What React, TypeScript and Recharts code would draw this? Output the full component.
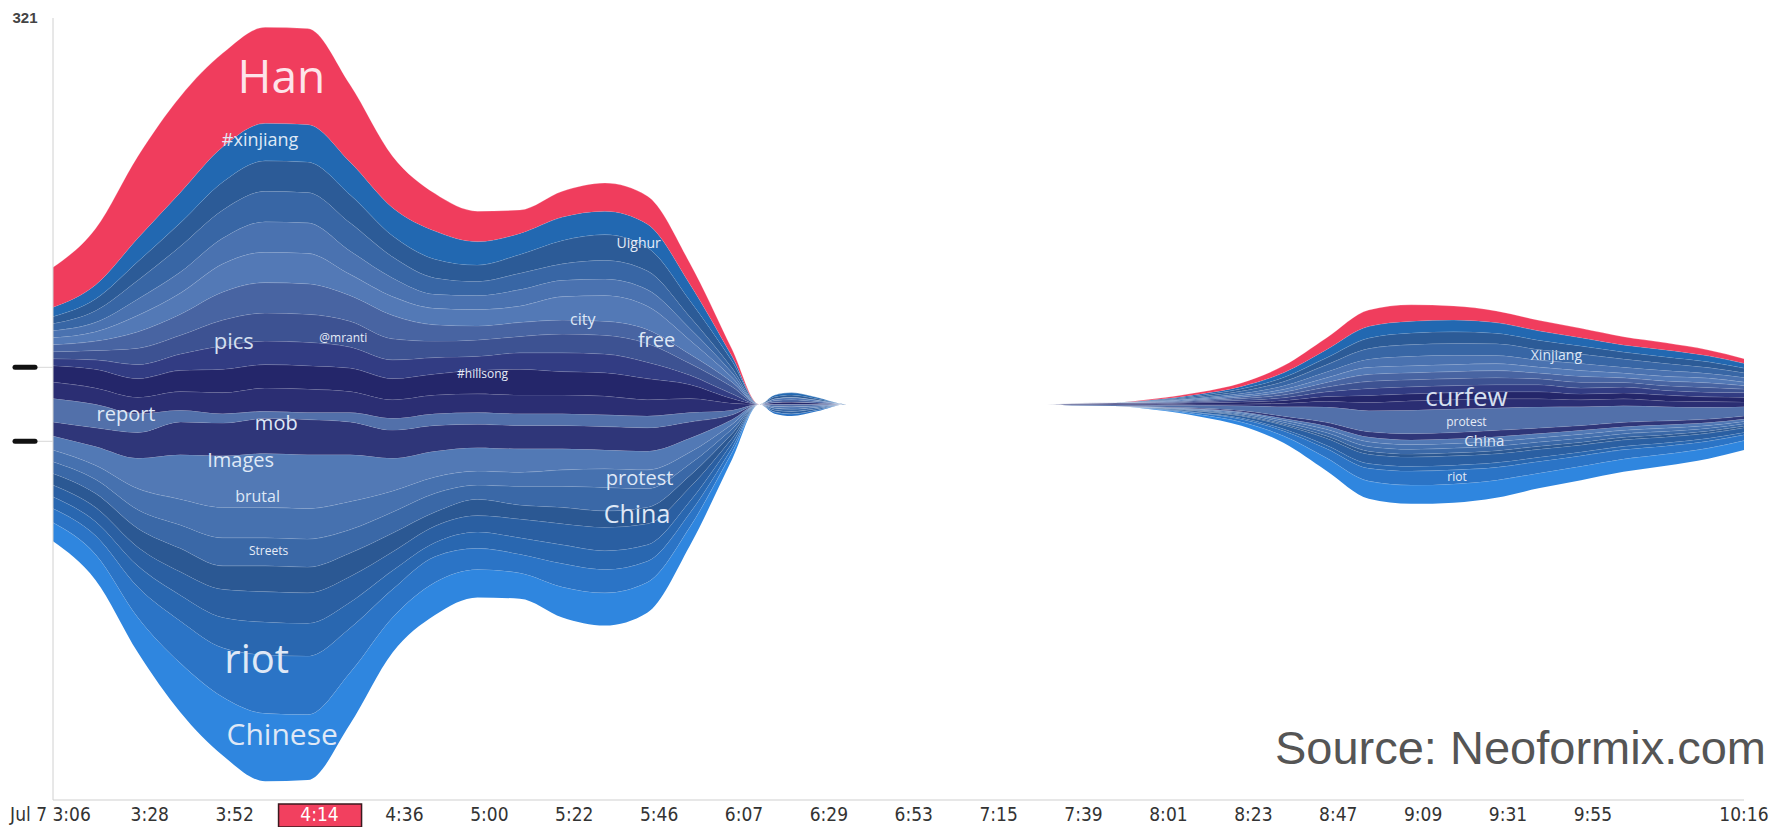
import React from "react";
import { Area, AreaChart, ReferenceDot, XAxis, YAxis } from "recharts";

// x position of every sample, in tick slots (slot 0 = left edge of the plot)
const times = [0, 0.5, 1, 1.5, 2, 2.5, 3, 3.5, 4, 4.5, 5, 5.5, 6, 6.5, 7, 7.5, 8, 8.32, 8.5, 8.7, 9, 9.35, 11.7, 12, 12.5, 13, 13.5, 14, 14.5, 15, 15.5, 16, 16.5, 17, 17.5, 18, 18.5, 19, 19.5, 19.92];

const tickPos = [0.14, 1.14, 2.14, 3.14, 4.14, 5.14, 6.14, 7.14, 8.14, 9.14, 10.14, 11.14, 12.14, 13.14, 14.14, 15.14, 16.14, 17.14, 18.14, 19.92];
const tickLabels = ["3:06", "3:28", "3:52", "4:14", "4:36", "5:00", "5:22", "5:46", "6:07", "6:29", "6:53", "7:15", "7:39", "8:01", "8:23", "8:47", "9:09", "9:31", "9:55", "10:16"];
const datePrefix = "Jul 7";
const highlightTick = "4:14";
const yMaxLabel = "321";

// layer thickness (tweet counts), bottom of the stream first
const chinese = [8, 11, 15, 21, 25, 29, 28, 22, 15, 14, 12, 11, 13, 14, 13, 8, 3, 0, 0, 0, 0, 0, 0, 0, 0, 0.3, 0.8, 1.6, 3, 5.5, 7.5, 8, 8, 7.5, 6.5, 6, 5.5, 5, 4.5, 4];
const riot = [6, 8, 13, 18, 21, 25, 25, 19, 12, 11, 9, 8, 10, 10, 9, 6, 2, 0, 0.8, 1, 0.6, 0, 0, 0, 0, 0.3, 0.6, 1.2, 2.2, 4, 5.5, 6, 6, 5.5, 5, 4.5, 4, 3.5, 3, 2.5];
const b3 = [5, 6, 9, 11, 13, 14, 14, 11, 8, 6, 7, 7, 8, 8, 7, 5, 2, 0, 0, 0, 0, 0, 0, 0, 0, 0.1, 0.3, 0.5, 0.8, 1.4, 2, 2, 2, 2, 1.8, 1.6, 1.4, 1.3, 1.2, 1];
const b4 = [5, 6, 8, 10, 12, 13, 13, 11, 8, 7, 7, 8, 9, 10, 9, 6, 2, 0, 0.8, 1, 0.6, 0, 0, 0, 0, 0.2, 0.5, 0.9, 1.6, 3, 4, 4, 4, 3.8, 3.4, 3, 2.8, 2.5, 2.2, 2];
const streets = [5, 6, 8, 10, 10, 11, 11, 10, 8, 6, 7, 6, 7, 7, 7, 5, 2, 0, 0, 0, 0, 0, 0, 0, 0, 0.1, 0.2, 0.3, 0.5, 1, 1.3, 1.3, 1.3, 1.3, 1.3, 1.2, 1.1, 1, 0.9, 0.7];
const b6 = [5, 6, 8, 10, 12, 12, 12, 10, 9, 8, 6, 8, 9, 10, 8, 5, 2, 0, 0.8, 1, 0.6, 0, 0, 0, 0, 0.1, 0.3, 0.5, 0.8, 1.4, 2, 2, 2, 2, 1.8, 1.7, 1.5, 1.4, 1.2, 1];
const brutal = [5, 6, 9, 11, 13, 13, 13, 12, 9, 7, 6, 6, 7, 8, 8, 5, 2, 0, 0, 0, 0, 0, 0, 0, 0, 0.1, 0.3, 0.5, 0.8, 1.4, 2, 2, 2, 2, 1.8, 1.7, 1.5, 1.4, 1.2, 1];
const images = [6, 8, 13, 19, 22, 23, 23, 20, 14, 11, 10, 10, 9, 8, 8, 6, 2, 0, 0.8, 1, 0.6, 0, 0, 0, 0, 0.1, 0.3, 0.5, 0.8, 1.4, 2, 2, 2, 2, 1.8, 1.7, 1.5, 1.4, 1.2, 1];
const mob = [6, 8, 11, 14, 14, 15, 15, 14, 12, 11, 10, 10, 10, 10, 10, 7, 2, 0, 0, 0, 0, 0, 0, 0, 0, 0.1, 0.3, 0.5, 1, 1.6, 2.3, 2.7, 2.7, 2.7, 2.4, 2, 1.9, 1.7, 1.5, 1.3];
const report = [10, 10, 8, 5, 4, 3, 3, 4, 5, 5, 5, 5, 5, 5, 5, 4, 2, 0, 0.8, 1, 0.6, 0, 0, 0.3, 0.5, 0.6, 1.2, 2, 4, 6.5, 9, 10, 10, 9.5, 9, 8, 7, 6, 5, 4];
const b10 = [7, 7, 7, 8, 9, 10, 10, 9, 8, 8, 8, 8, 8, 8, 7, 6, 3, 0, 0, 0, 0, 0, 0, 0.2, 0.3, 0.3, 0.5, 0.8, 1.5, 2.5, 3.5, 4, 4, 4, 3.5, 3, 3, 2.5, 2.5, 2];
const hillsong = [7, 8, 8, 9, 10, 10, 10, 10, 9, 9, 10, 11, 10, 10, 9, 6, 2, 0, 0.8, 1, 0.6, 0, 0, 0.3, 0.4, 0.4, 0.5, 0.8, 1.2, 2, 3, 3, 3, 3, 3, 2.5, 2.5, 2.5, 2, 2];
const b12 = [3, 4, 6, 7, 10, 10, 10, 9, 8, 7, 6, 7, 8, 8, 7, 4, 2, 0, 0, 0, 0, 0, 0, 0.2, 0.3, 0.3, 0.5, 0.8, 1.2, 2, 3, 3, 3, 3, 3, 2.5, 2.5, 2, 2, 2];
const mranti = [3, 4, 7, 8, 11, 12, 12, 11, 9, 7, 7, 7, 8, 8, 8, 5, 3, 0, 0, 0, 0, 0, 0, 0, 0, 0.2, 0.4, 0.7, 1.2, 2, 3, 3, 3, 3, 2.5, 2.5, 2, 2, 2, 1.5];
const pics = [3, 4, 7, 9, 12, 13, 13, 11, 10, 7, 6, 6, 6, 6, 6, 4, 2, 0, 0.8, 1, 0.6, 0, 0, 0, 0, 0.2, 0.4, 0.7, 1.2, 2, 3, 3, 3, 3, 2.5, 2.5, 2, 2, 2, 1.5];
const city = [3, 4, 7, 9, 12, 13, 13, 9, 8, 7, 7, 7, 10, 11, 10, 6, 2, 0, 0.8, 1, 0.6, 0, 0, 0, 0, 0.2, 0.4, 0.7, 1.2, 2, 3, 3, 3, 3, 2.5, 2.5, 2, 2, 2, 1.5];
const b16 = [3, 4, 7, 9, 11, 13, 13, 10, 8, 6, 6, 7, 7, 7, 7, 5, 2, 0, 0, 0, 0, 0, 0, 0, 0, 0.2, 0.4, 0.8, 1.5, 2.5, 3.5, 4, 4, 3.5, 3, 3, 2.5, 2.5, 2, 2];
const b17 = [3, 5, 8, 11, 12, 13, 13, 12, 9, 7, 6, 7, 7, 8, 8, 5, 2, 0, 0, 0, 0, 0, 0, 0, 0, 0.2, 0.5, 1, 1.8, 3, 4.5, 5, 5, 5, 4.5, 4, 3.5, 3, 2.5, 2];
const uighur = [3, 5, 8, 10, 12, 13, 13, 12, 9, 8, 7, 8, 10, 11, 10, 7, 3, 0, 0.8, 1, 0.6, 0, 0, 0, 0, 0.2, 0.5, 1, 1.8, 3, 4.5, 5, 5, 4.5, 4, 3.5, 3, 2.8, 2.5, 2];
const xinjiang = [4, 6, 10, 13, 15, 16, 16, 14, 12, 12, 10, 9, 10, 10, 10, 7, 2, 0, 0.8, 1, 0.6, 0, 0, 0, 0, 0.3, 0.6, 1, 2, 3.5, 5, 5, 5, 4.5, 4, 3.5, 3, 3, 2.5, 2];
const han = [17, 24, 35, 41, 40, 41, 41, 33, 22, 16, 13, 10, 11, 12, 12, 9, 3, 0, 0, 0, 0, 0, 0, 0, 0, 0.4, 0.8, 1.5, 3, 5, 7, 7, 6, 5, 4.5, 4, 3.5, 3, 2.5, 2];

const layers = [
  { key: "chinese", values: chinese, color: "#2f86df" },
  { key: "riot", values: riot, color: "#2b74c6" },
  { key: "b3", values: b3, color: "#2967b0" },
  { key: "b4", values: b4, color: "#2a5fa2" },
  { key: "streets", values: streets, color: "#2b5893" },
  { key: "b6", values: b6, color: "#3a68a7" },
  { key: "brutal", values: brutal, color: "#4671af" },
  { key: "images", values: images, color: "#5279b5" },
  { key: "mob", values: mob, color: "#2f3679" },
  { key: "report", values: report, color: "#5270aa" },
  { key: "b10", values: b10, color: "#2b2e73" },
  { key: "hillsong", values: hillsong, color: "#24266a" },
  { key: "b12", values: b12, color: "#323c83" },
  { key: "mranti", values: mranti, color: "#3d5292" },
  { key: "pics", values: pics, color: "#4864a2" },
  { key: "city", values: city, color: "#5379b6" },
  { key: "b16", values: b16, color: "#4a72b0" },
  { key: "b17", values: b17, color: "#3866a5" },
  { key: "uighur", values: uighur, color: "#2c5b97" },
  { key: "xinjiang", values: xinjiang, color: "#2268b1" },
  { key: "han", values: han, color: "#f03d5d" },
];

const data = times.map((t, i) => {
  const row: Record<string, number> = { t };
  layers.forEach((l) => {
    row[l.key] = l.values[i];
  });
  return row;
});

// words drawn on the stream (t = slot, v = offset from the centre line)
const words = [
  { text: "Han", t: 2.69, v: 140, size: 46, color: "#fde4ea" },
  { text: "#xinjiang", t: 2.44, v: 113, size: 18, color: "#dfe8f6" },
  { text: "pics", t: 2.13, v: 27, size: 22, color: "#d6e0f0" },
  { text: "@mranti", t: 3.42, v: 28.6, size: 12, color: "#e6ecf7" },
  { text: "#hillsong", t: 5.06, v: 13.2, size: 12, color: "#e6ecf7" },
  { text: "city", t: 6.24, v: 36.3, size: 16, color: "#dfe8f6" },
  { text: "Uighur", t: 6.9, v: 68.8, size: 14, color: "#e6ecf7" },
  { text: "free", t: 7.11, v: 27.3, size: 20, color: "#dfe8f6" },
  { text: "report", t: 0.86, v: -4.3, size: 20, color: "#dfe8f6" },
  { text: "mob", t: 2.63, v: -8.1, size: 20, color: "#dfe8f6" },
  { text: "Images", t: 2.21, v: -23.9, size: 20, color: "#dfe8f6" },
  { text: "brutal", t: 2.41, v: -39.3, size: 16, color: "#dfe8f6" },
  { text: "Streets", t: 2.54, v: -62.4, size: 12, color: "#e6ecf7" },
  { text: "protest", t: 6.91, v: -31.6, size: 20, color: "#dfe8f6" },
  { text: "China", t: 6.88, v: -47, size: 25, color: "#dfe8f6" },
  { text: "riot", t: 2.4, v: -108.9, size: 40, color: "#dfe8f6" },
  { text: "Chinese", t: 2.7, v: -141, size: 30, color: "#dfe8f6" },
  { text: "Xinjiang", t: 17.71, v: 20.9, size: 14, color: "#dfe8f6" },
  { text: "curfew", t: 16.65, v: 3.4, size: 26, color: "#d6e0f0" },
  { text: "protest", t: 16.65, v: -7.3, size: 12, color: "#e6ecf7" },
  { text: "China", t: 16.86, v: -15.4, size: 15, color: "#dfe8f6" },
  { text: "riot", t: 16.54, v: -30.8, size: 12, color: "#e6ecf7" },
];

const Y_TOP = 165;
const Y_BOTTOM = -169;
const tickFont = "'Liberation Sans Narrow', 'DejaVu Sans Condensed', 'Liberation Sans', sans-serif";

function XTick(props: any) {
  const { x, y, payload } = props;
  const idx = tickPos.indexOf(payload.value);
  const label = tickLabels[idx];
  const ty = y + 21;
  if (idx === 0) {
    return (
      <text x={x + 26} y={ty} textAnchor="end" fontSize={19} fontFamily={tickFont} fill="#333">
        {datePrefix} {label}
      </text>
    );
  }
  if (label === highlightTick) {
    return (
      <g>
        <rect x={x - 41} y={y + 4} width={83} height={23} fill="#f2405f" stroke="#3a1a1f" strokeWidth={1.5} />
        <text x={x} y={ty} textAnchor="middle" fontSize={19} fontFamily={tickFont} fill="#fff">
          {label}
        </text>
      </g>
    );
  }
  return (
    <text x={x} y={ty} textAnchor="middle" fontSize={19} fontFamily={tickFont} fill="#333">
      {label}
    </text>
  );
}

function YTick(props: any) {
  const { y, payload } = props;
  if (payload.value === Y_TOP) {
    return (
      <text x={25} y={y + 5} textAnchor="middle" fontSize={15} fontWeight={700} fontFamily="'Liberation Sans', sans-serif" fill="#444">
        {yMaxLabel}
      </text>
    );
  }
  return (
    <g>
      <line x1={37} x2={53} y1={y} y2={y} stroke="#d8d8d8" strokeWidth={1} />
      <line x1={15} x2={35} y1={y} y2={y} stroke="#111" strokeWidth={5} strokeLinecap="round" />
    </g>
  );
}

export default function App() {
  return (
    <div style={{ position: "absolute", left: 0, top: 0, width: 1783, height: 827, background: "#fff" }}>
      <AreaChart
        width={1783}
        height={827}
        data={data}
        stackOffset="silhouette"
        margin={{ top: 18, right: 39, bottom: 0, left: 0 }}
      >
        <XAxis
          dataKey="t"
          type="number"
          domain={[0, 19.92]}
          ticks={tickPos}
          interval={0}
          tick={<XTick />}
          tickLine={false}
          tickSize={0}
          tickMargin={0}
          axisLine={{ stroke: "#cfcfcf" }}
          height={27}
        />
        <YAxis
          type="number"
          domain={[Y_BOTTOM, Y_TOP]}
          ticks={[Y_TOP, 15.8, -15.8]}
          interval={0}
          tick={<YTick />}
          tickLine={false}
          axisLine={{ stroke: "#d0d0d0" }}
          width={53}
        />
        {layers.map((l) => (
          <Area
            key={l.key}
            dataKey={l.key}
            stackId="s"
            type="monotone"
            fill={l.color}
            fillOpacity={1}
            stroke="#ffffff"
            strokeOpacity={0.22}
            strokeWidth={1}
            dot={false}
            activeDot={false}
            isAnimationActive={false}
          />
        ))}
        {words.map((w, i) => (
          <ReferenceDot
            key={i}
            x={w.t}
            y={w.v}
            r={0}
            fill="none"
            stroke="none"
            ifOverflow="visible"
            label={{ value: w.text, position: "center", fill: w.color, fontSize: w.size, fontFamily: "'Open Sans', 'Noto Sans', sans-serif" }}
          />
        ))}
      </AreaChart>
      <svg width={1783} height={827} style={{ position: "absolute", left: 0, top: 0, pointerEvents: "none" }}>
        <text x={1766} y={764} textAnchor="end" fontSize={47} fontFamily="'Liberation Sans', Arial, sans-serif" fill="#555">
          Source: Neoformix.com
        </text>
      </svg>
    </div>
  );
}
